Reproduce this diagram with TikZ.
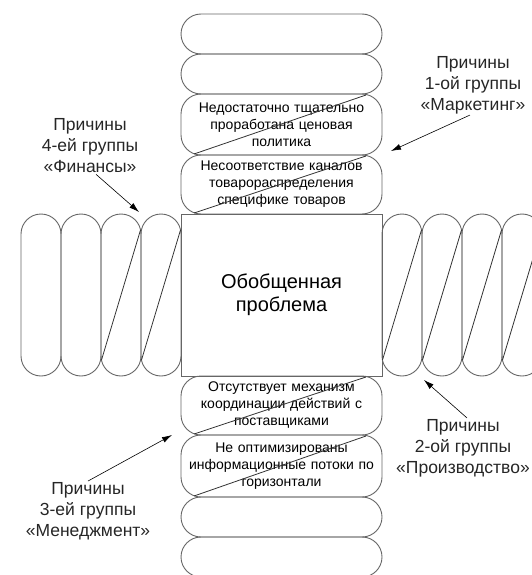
\documentclass[tikz,border=0pt]{standalone}
\usepackage{fontspec}
\setmainfont{Liberation Sans}
\usepackage{tikz}
\usetikzlibrary{arrows.meta, calc, positioning}

\begin{document}
\begin{tikzpicture}[x=1pt, y=-1pt,
          capsule/.style={draw=gray!80!black, line width=0.9pt, rounded corners=20pt, inner sep=0pt, outer sep=0pt, align=center, font=\fontsize{14}{17}\selectfont},
          vcap/.style={capsule, minimum width=201pt, text width=197pt},
          hcap/.style={capsule, minimum width=40pt, minimum height=162pt},
          coil/.style={line width=0.8pt, black!80},
          cause/.style={align=center, inner sep=1pt, font=\fontsize{17.5}{21}\selectfont, text=black!85},
          pointer/.style={line width=0.6pt, -{Latex[length=10pt, width=6pt]}}]
          \useasboundingbox (0,0) rectangle (531,575);
          \node[draw=gray!80!black, line width=0.9pt, minimum width=201pt, minimum height=162pt, inner sep=0pt, outer sep=0pt, align=center, font=\fontsize{20}{23}\selectfont] (prob) at (281.5,295) {Обобщенная\\проблема};
          \node[vcap, minimum height=59pt, above=0pt of prob] (top4) {Несоответствие каналов\\товарораспределения\\специфике товаров};
          \node[vcap, minimum height=61pt, above=0pt of top4] (top3) {Недостаточно тщательно\\проработана ценовая\\политика};
          \node[vcap, minimum height=40pt, above=0pt of top3] (top2) {};
          \node[vcap, minimum height=40pt, above=0pt of top2] (top1) {};
          \node[vcap, minimum height=59pt, below=0pt of prob] (bot1) {Отсутствует механизм\\координации действий с\\поставщиками};
          \node[vcap, minimum height=62pt, below=0pt of bot1] (bot2) {Не оптимизированы\\информационные потоки по\\горизонтали};
          \node[vcap, minimum height=40pt, below=0pt of bot2] (bot3) {};
          \node[vcap, minimum height=40pt, below=0pt of bot3] (bot4) {};
          \node[hcap, left=0pt of prob] (left1) {};
          \node[hcap, right=0pt of prob] (right1) {};
          \foreach \i [count=\j from 2] in {1,2,3}
            \node[hcap, left=0pt of left\i] (left\j) {};
          \foreach \i [count=\j from 2] in {1,2,3}
            \node[hcap, right=0pt of right\i] (right\j) {};
          \foreach \n in {top3, top4, bot1, bot2}
            \draw[coil] ($(\n.south west)+(13pt,1pt)$) -- ($(\n.north east)+(-16pt,-1pt)$);
          \foreach \n in {left1, left2, right1, right2, right3, right4}
            \draw[coil] ($(\n.south west)+(0.5pt,16pt)$) -- ($(\n.north east)+(-0.5pt,-16pt)$);
          \node[cause] (mark) at (473,85) {Причины\\1-ой группы\\«Маркетинг»};
          \node[cause] (prod) at (463,448) {Причины\\2-ой группы\\«Производство»};
          \node[cause] (mgmt) at (88,511) {Причины\\3-ей группы\\«Менеджмент»};
          \node[cause] (fin) at (90,146) {Причины\\4-ей группы\\«Финансы»};
          \coordinate (markTip) at (391,151);
          \coordinate (prodTip) at (424,380);
          \coordinate (mgmtTip) at (172,435);
          \coordinate (finTip) at (139,212);
          \draw[pointer] ([xshift=-3pt]mark.south) -- (markTip);
          \draw[pointer] ([xshift=4pt]prod.north) -- (prodTip);
          \draw[pointer] (mgmt.north) -- (mgmtTip);
          \draw[pointer] ([xshift=6pt]fin.south) -- (finTip);
        \end{tikzpicture}
\end{document}
